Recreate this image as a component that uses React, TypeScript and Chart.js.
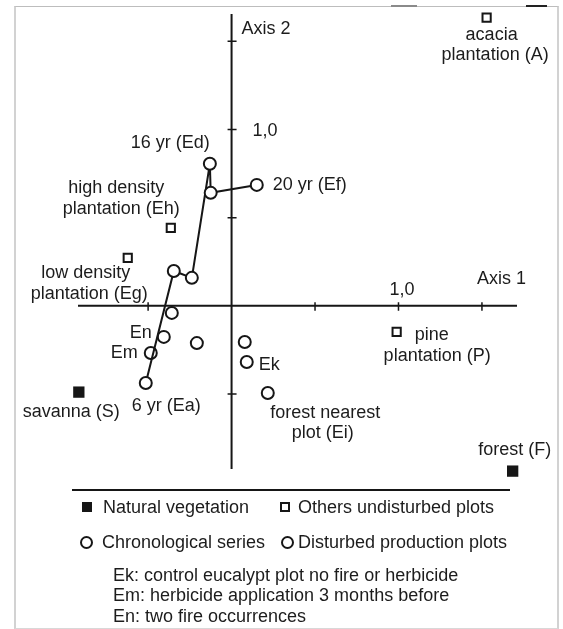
import React, { useEffect, useRef } from "react";
import { Chart, registerables } from "chart.js";

Chart.register(...registerables);

// ---- data (ordination scores) ----
const naturalVegetation = [
  { x: -0.915, y: -0.489 }, // savanna (S)
  { x: 1.684, y: -0.937 }, // forest (F)
];
const othersUndisturbed = [
  { x: 1.528, y: 1.635 }, // acacia plantation (A)
  { x: 0.989, y: -0.148 }, // pine plantation (P)
  { x: -0.364, y: 0.442 }, // high density plantation (Eh)
  { x: -0.622, y: 0.272 }, // low density plantation (Eg)
];
const chronologicalSeries = [
  { x: -0.514, y: -0.437 }, // 6 yr (Ea)
  { x: -0.346, y: 0.198 }, // Eb
  { x: -0.238, y: 0.159 }, // Ec
  { x: -0.13, y: 0.806 }, // 16 yr (Ed)
  { x: -0.125, y: 0.641 }, // Ee
  { x: 0.151, y: 0.686 }, // 20 yr (Ef)
];
const disturbedProduction = [
  { x: -0.358, y: -0.04 },
  { x: -0.406, y: -0.176 }, // En
  { x: -0.484, y: -0.267 }, // Em
  { x: -0.208, y: -0.211 },
  { x: 0.079, y: -0.205 },
  { x: 0.091, y: -0.318 }, // Ek
  { x: 0.217, y: -0.494 }, // Ei
];

const axis1Range = [-0.92, 1.71];
const axis2Range = [-0.925, 1.655];
const axis1Ticks = [-0.5, 0.5, 1.0, 1.5];
const axis2Ticks = [-0.5, 0.5, 1.0, 1.5];
const axis1TickLabels = [{ value: 1.0, text: "1,0" }];
const axis2TickLabels = [{ value: 1.0, text: "1,0" }];
const axisTitles = ["Axis 1", "Axis 2"];

// point labels: dataset index, point index, text
const pointLabels = [
  { ds: 2, i: 3, text: "16 yr (Ed)", dx: 0, dy: -21, align: "right" },
  { ds: 2, i: 5, text: "20 yr (Ef)", dx: 16, dy: 0, align: "left" },
  { ds: 1, i: 2, text: "high density", dx: -54.5, dy: -40, align: "center" },
  { ds: 1, i: 2, text: "plantation (Eh)", dx: -49.5, dy: -19, align: "center" },
  { ds: 1, i: 3, text: "low density", dx: -42, dy: 15, align: "center" },
  { ds: 1, i: 3, text: "plantation (Eg)", dx: -38.5, dy: 36, align: "center" },
  { ds: 3, i: 1, text: "En", dx: -12, dy: -4, align: "right" },
  { ds: 3, i: 2, text: "Em", dx: -13, dy: 0, align: "right" },
  { ds: 2, i: 0, text: "6 yr (Ea)", dx: 20.5, dy: 23, align: "center" },
  { ds: 0, i: 0, text: "savanna (S)", dx: -7.5, dy: 20, align: "center" },
  { ds: 3, i: 5, text: "Ek", dx: 12, dy: 3, align: "left" },
  { ds: 3, i: 6, text: "forest nearest", dx: 57.5, dy: 20, align: "center" },
  { ds: 3, i: 6, text: "plot (Ei)", dx: 55, dy: 40, align: "center" },
  { ds: 1, i: 1, text: "pine", dx: 18, dy: 3, align: "left" },
  { ds: 1, i: 1, text: "plantation (P)", dx: 40.5, dy: 24, align: "center" },
  { ds: 0, i: 1, text: "forest (F)", dx: 2, dy: -21, align: "center" },
  { ds: 1, i: 0, text: "acacia", dx: 5, dy: 18, align: "center" },
  { ds: 1, i: 0, text: "plantation (A)", dx: 8.5, dy: 38, align: "center" },
];

const FONT = '18px "Liberation Sans", Arial, Helvetica, sans-serif';
const INK = "#161616";
const TEXT = "#1c1c1c";

const ordinationPlugin = {
  id: "ordinationAxes",
  beforeDatasetsDraw(chart: any) {
    const { ctx, scales } = chart;
    const xs = scales.x;
    const ys = scales.y;
    const x0 = xs.getPixelForValue(0);
    const y0 = ys.getPixelForValue(0);
    ctx.save();
    ctx.strokeStyle = INK;
    ctx.lineWidth = 2;
    ctx.beginPath();
    ctx.moveTo(xs.getPixelForValue(axis1Range[0]), y0);
    ctx.lineTo(xs.getPixelForValue(axis1Range[1]), y0);
    ctx.moveTo(x0, ys.getPixelForValue(axis2Range[1]));
    ctx.lineTo(x0, ys.getPixelForValue(axis2Range[0]));
    ctx.stroke();
    ctx.lineWidth = 1.5;
    ctx.beginPath();
    axis1Ticks.forEach((v) => {
      const px = xs.getPixelForValue(v);
      ctx.moveTo(px, y0 - 3.5);
      ctx.lineTo(px, y0 + 5);
    });
    axis2Ticks.forEach((v) => {
      const py = ys.getPixelForValue(v);
      ctx.moveTo(x0 - 4, py);
      ctx.lineTo(x0 + 5, py);
    });
    ctx.stroke();

    ctx.fillStyle = TEXT;
    ctx.font = FONT;
    ctx.textBaseline = "middle";
    ctx.textAlign = "center";
    axis1TickLabels.forEach((t) => {
      ctx.fillText(t.text, xs.getPixelForValue(t.value) + 3.5, y0 - 16);
    });
    ctx.textAlign = "left";
    axis2TickLabels.forEach((t) => {
      ctx.fillText(t.text, x0 + 21, ys.getPixelForValue(t.value) + 2);
    });
    ctx.textAlign = "center";
    ctx.fillText(axisTitles[0], xs.getPixelForValue(axis1Range[1]) - 15.5, y0 - 27);
    ctx.textAlign = "left";
    ctx.fillText(axisTitles[1], x0 + 10, ys.getPixelForValue(axis2Range[1]) + 15);
    ctx.restore();
  },
  afterDatasetsDraw(chart: any) {
    const { ctx, scales } = chart;
    const xs = scales.x;
    const ys = scales.y;
    ctx.save();
    ctx.fillStyle = TEXT;
    ctx.font = FONT;
    ctx.textBaseline = "middle";
    pointLabels.forEach((l) => {
      const pt = chart.data.datasets[l.ds].data[l.i];
      const px = xs.getPixelForValue(pt.x) + l.dx;
      const py = ys.getPixelForValue(pt.y) + l.dy;
      ctx.textAlign = l.align;
      ctx.fillText(l.text, px, py);
    });
    ctx.restore();
  },
};

export default function App() {
  const canvasRef = useRef<HTMLCanvasElement | null>(null);

  useEffect(() => {
    if (!canvasRef.current) return;
    const chart = new Chart(canvasRef.current, {
      type: "scatter",
      data: {
        datasets: [
          {
            label: "Natural vegetation",
            data: naturalVegetation,
            pointStyle: "rect",
            pointRadius: 8,
            backgroundColor: INK,
            borderColor: INK,
            borderWidth: 0,
            clip: false,
            order: 1,
          },
          {
            label: "Others undisturbed plots",
            data: othersUndisturbed,
            pointStyle: "rect",
            pointRadius: 5.8,
            backgroundColor: "#ffffff",
            borderColor: INK,
            borderWidth: 2,
            clip: false,
            order: 1,
          },
          {
            label: "Chronological series",
            data: chronologicalSeries,
            showLine: true,
            borderColor: INK,
            borderWidth: 2,
            pointStyle: "circle",
            pointRadius: 6,
            pointBorderWidth: 2,
            pointBackgroundColor: "#ffffff",
            pointBorderColor: INK,
            clip: false,
            order: 2,
          },
          {
            label: "Disturbed production plots",
            data: disturbedProduction,
            pointStyle: "circle",
            pointRadius: 6,
            pointBorderWidth: 2,
            pointBackgroundColor: "#ffffff",
            pointBorderColor: INK,
            clip: false,
            order: 3,
          },
        ],
      },
      options: {
        responsive: false,
        animation: false,
        devicePixelRatio: 1,
        layout: { padding: { left: 78, right: 46, top: 14, bottom: 160 } },
        scales: {
          x: { type: "linear", min: axis1Range[0], max: axis1Range[1], display: false },
          y: { type: "linear", min: axis2Range[0], max: axis2Range[1], display: false },
        },
        plugins: {
          legend: { display: false },
          tooltip: { enabled: false },
        },
      },
      plugins: [ordinationPlugin],
    } as any);
    return () => chart.destroy();
  }, []);

  const textStyle: React.CSSProperties = {
    position: "absolute",
    font: FONT,
    color: TEXT,
    height: 22,
    lineHeight: "22px",
    whiteSpace: "nowrap",
  };

  return (
    <div style={{ position: "absolute", left: 0, top: 0, width: 563, height: 629, background: "#fff", overflow: "hidden" }}>
      <div
        style={{
          position: "absolute",
          left: 14,
          top: 6,
          width: 541,
          height: 621,
          borderTop: "1px solid #bdbdbd",
          borderLeft: "2px solid #d2d2d2",
          borderRight: "2px solid #d2d2d2",
          borderBottom: "1px solid #d8d8d8",
        }}
      />
      <div style={{ position: "absolute", left: 391, top: 5, width: 26, height: 2, background: "#8a8a8a" }} />
      <div style={{ position: "absolute", left: 526, top: 5, width: 21, height: 2, background: "#222" }} />
      <canvas ref={canvasRef} width={563} height={629} style={{ position: "absolute", left: 0, top: 0 }} />
      <div style={{ position: "absolute", left: 72, top: 489, width: 438, height: 2, background: INK }} />
      {/* legend row 1 */}
      <div style={{ position: "absolute", left: 82, top: 502, width: 10, height: 10, background: INK }} />
      <div style={{ ...textStyle, left: 103, top: 496 }}>Natural vegetation</div>
      <div style={{ position: "absolute", left: 280, top: 502, width: 10, height: 10, border: `2px solid ${INK}`, boxSizing: "border-box" }} />
      <div style={{ ...textStyle, left: 298, top: 496 }}>Others undisturbed plots</div>
      {/* legend row 2 */}
      <div style={{ position: "absolute", left: 80, top: 536, width: 13, height: 13, border: `2px solid ${INK}`, borderRadius: "50%", boxSizing: "border-box" }} />
      <div style={{ ...textStyle, left: 102, top: 531 }}>Chronological series</div>
      <div style={{ position: "absolute", left: 281, top: 536, width: 13, height: 13, border: `2px solid ${INK}`, borderRadius: "50%", boxSizing: "border-box" }} />
      <div style={{ ...textStyle, left: 298, top: 531 }}>Disturbed production plots</div>
      {/* notes */}
      <div style={{ ...textStyle, left: 113, top: 564 }}>Ek: control eucalypt plot no fire or herbicide</div>
      <div style={{ ...textStyle, left: 113, top: 584 }}>Em: herbicide application 3 months before</div>
      <div style={{ ...textStyle, left: 113, top: 605 }}>En: two fire occurrences</div>
    </div>
  );
}
